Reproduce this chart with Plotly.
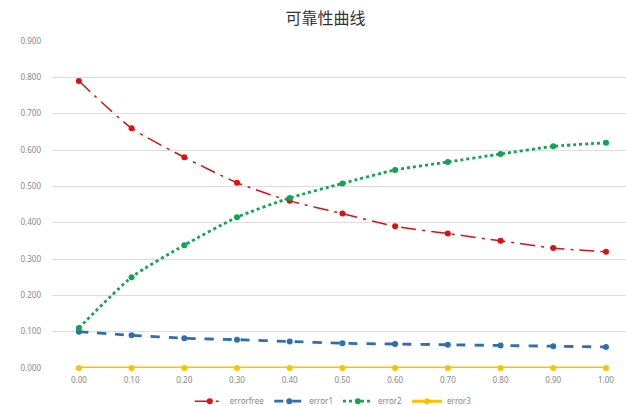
import plotly.graph_objects as go

x_vals = [0.0, 0.1, 0.2, 0.3, 0.4, 0.5, 0.6, 0.7, 0.8, 0.9, 1.0]
errorfree = [0.79, 0.66, 0.58, 0.51, 0.46, 0.425, 0.39, 0.37, 0.35, 0.33, 0.32]
error1 = [0.10, 0.090, 0.082, 0.078, 0.073, 0.068, 0.066, 0.064, 0.062, 0.060, 0.058]
error2 = [0.11, 0.25, 0.338, 0.415, 0.468, 0.508, 0.545, 0.567, 0.589, 0.610, 0.620]
error3 = [0.0] * 11

x_ticks = [f"{v:.2f}" for v in x_vals]
y_ticks = [i / 10 for i in range(10)]
y_ticktext = [f"{v:.3f}" for v in y_ticks]

series = [
    ("errorfree", errorfree, "#E01010", "longdashdot", 1.5, 6),
    ("error1", error1, "#2F6DB5", "dash", 2.8, 6),
    ("error2", error2, "#10A550", "dot", 2.8, 6),
    ("error3", error3, "#FFC000", "solid", 3.0, 6),
]

fig = go.Figure()
for name, ys, color, dash, width, msize in series:
    fig.add_trace(go.Scatter(
        x=x_vals, y=ys, name=name, mode="lines+markers",
        line=dict(color=color, dash=dash, width=width, shape="spline", smoothing=0.6),
        marker=dict(color=color, size=msize),
        cliponaxis=False,
    ))

fig.update_layout(
    width=626, height=406,
    margin=dict(l=52, r=0, t=41, b=38, autoexpand=False),
    paper_bgcolor="white", plot_bgcolor="white",
    title=dict(text="可靠性曲线", x=0.52, xanchor="center", y=0.955, yanchor="middle",
               font=dict(family="Noto Sans CJK SC", size=16, color="#333")),
    font=dict(family="Noto Sans, DejaVu Sans", color="#888"),
    showlegend=True,
    legend=dict(orientation="h", x=0.49, xanchor="center",
                yref="container", y=0.012, yanchor="middle",
                font=dict(size=8, color="#888"), itemwidth=30),
)
fig.update_xaxes(
    range=[-0.051, 1.038], tickvals=x_vals, ticktext=x_ticks,
    showgrid=False, zeroline=False, showline=False,
    tickfont=dict(size=8, color="#888"), ticks="", ticklabelstandoff=6,
)
fig.update_yaxes(
    range=[0, 0.9], tickvals=y_ticks, ticktext=y_ticktext,
    showgrid=True, gridcolor="#DDDDDD", gridwidth=1.2,
    zeroline=False, showline=False,
    tickfont=dict(size=8, color="#888"), ticks="", ticklabelstandoff=10,
)

fig.write_html("out.html")
